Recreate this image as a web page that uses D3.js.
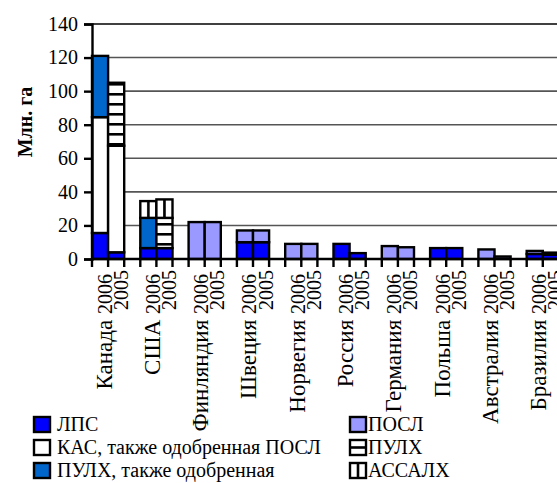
<!DOCTYPE html>
<html><head><meta charset="utf-8">
<script src="https://cdn.jsdelivr.net/npm/d3@7/dist/d3.min.js"></script>
<style>body{margin:0;background:#fff}svg{display:block}
text{font-family:"Liberation Serif","Times New Roman",Times,"DejaVu Serif",serif;}</style></head>
<body><svg id="c" width="557" height="483"></svg>
<script>
// ---------- data ----------
const countries = ["Канада","США","Финляндия","Швеция","Норвегия","Россия","Германия","Польша","Австралия","Бразилия"];
const years = ["2006","2005"];
// values in order: country0-2006, country0-2005, country1-2006, ...
const lps          = [15.5,4,   6.5,6.5, 0,0,   10,10, 0,0, 9,3.5, 0,0,   6.5,6.5, 0,0,     3,2.5];
const kas          = [69,63.5,  0,0,     0,0,   0,0,   0,0, 0,0,   0,0,   0,0,     0,0,     0,0];
const pulhApproved = [36.5,0,   18,0,    0,0,   0,0,   0,0, 0,0,   0,0,   0,0,     0,0,     0,0];
const posl         = [0,0,      0,0,     22,22, 7,7,   9,9, 0,0,   7.7,7, 0,0,     5.7,1.5, 1.8,1.3];
const pulh         = [0,37.5,   0,18,    0,0,   0,0,   0,0, 0,0,   0,0,   0,0,     0,0,     0,0];
const assalh       = [0,0,      10,11,   0,0,   0,0,   0,0, 0,0,   0,0,   0,0,     0,0,     0,0];
const seriesNames = ["ЛПС","КАС, также одобренная ПОСЛ","ПУЛХ, также одобренная","ПОСЛ","ПУЛХ","АССАЛХ"];
const yTicks = [0,20,40,60,80,100,120,140];
const yTitle = "Млн. га";

// ---------- build ----------
const FONT = '"Liberation Serif","Times New Roman",Times,serif';
const seriesKeys = ["lps","kas","pulhA","posl","pulh","assalh"];
const seriesArrays = [lps,kas,pulhApproved,posl,pulh,assalh];
const rows = [];
const slotKeys = [];
countries.forEach((c,ci)=>{
  years.forEach((yr,yi)=>{
    const i = ci*2+yi;
    const r = {key:c+"|"+yr, country:c, year:yr};
    seriesKeys.forEach((k,si)=>r[k]=seriesArrays[si][i]);
    rows.push(r); slotKeys.push(r.key);
  });
  if(ci<countries.length-1) slotKeys.push("gap"+ci);
});

const svg = d3.select("#c");
const W=557, H=483;
const left=92, slotW=16.1;
const x = d3.scaleBand().domain(slotKeys).range([left, left+slotKeys.length*slotW]).padding(0);
const y = d3.scaleLinear().domain([0,140]).range([259,24]);

const fills = {lps:"#0000FF", kas:"#FFFFFF", pulhA:"#0066CC", posl:"#9999FF", pulh:"url(#hstripe)", assalh:"url(#vstripe)"};
const legendFills = {lps:"#0000FF", kas:"#FFFFFF", pulhA:"#0066CC", posl:"#9999FF", pulh:"url(#hstripeL)", assalh:"url(#vstripeL)"};

const defs = svg.append("defs");
const hp = defs.append("pattern").attr("id","hstripe").attr("patternUnits","userSpaceOnUse")
  .attr("width",10).attr("height",10);
hp.append("rect").attr("width",10).attr("height",10).attr("fill","#fff");
hp.append("rect").attr("y",3).attr("width",10).attr("height",2.6).attr("fill","#000");
const vp = defs.append("pattern").attr("id","vstripe").attr("patternUnits","objectBoundingBox")
  .attr("width",1).attr("height",1);
vp.append("rect").attr("width",100).attr("height",1000).attr("fill","#fff");
vp.append("rect").attr("x",x.bandwidth()/2-1.3).attr("width",2.6).attr("height",1000).attr("fill","#000");
const hpl = defs.append("pattern").attr("id","hstripeL").attr("patternUnits","objectBoundingBox")
  .attr("width",1).attr("height",1);
hpl.append("rect").attr("width",100).attr("height",100).attr("fill","#fff");
hpl.append("rect").attr("y",6.2).attr("width",100).attr("height",2.6).attr("fill","#000");
const vpl = defs.append("pattern").attr("id","vstripeL").attr("patternUnits","objectBoundingBox")
  .attr("width",1).attr("height",1);
vpl.append("rect").attr("width",100).attr("height",100).attr("fill","#fff");
vpl.append("rect").attr("x",6.7).attr("width",2.6).attr("height",100).attr("fill","#000");

svg.append("rect").attr("width",W).attr("height",H).attr("fill","#fff");

// gridlines
svg.append("g").selectAll("line").data(yTicks.filter(d=>d>0)).join("line")
  .attr("x1",left).attr("x2",W).attr("y1",d=>y(d)).attr("y2",d=>y(d))
  .attr("stroke",d=>d===140?"#000":"#555").attr("stroke-width",1.6);

// bars
const stack = d3.stack().keys(seriesKeys);
const stacked = stack(rows);
svg.append("g").selectAll("g").data(stacked).join("g")
  .attr("fill",d=>fills[d.key])
  .selectAll("rect").data(d=>d.filter(p=>p[1]-p[0]>0)).join("rect")
  .attr("x",d=>x(d.data.key)).attr("width",x.bandwidth())
  .attr("y",d=>y(d[1])).attr("height",d=>y(d[0])-y(d[1]))
  .attr("stroke","#000").attr("stroke-width",2.4);

// y axis
const ya = svg.append("g").attr("transform",`translate(${left},0)`)
  .call(d3.axisLeft(y).tickValues(yTicks).tickSize(8).tickPadding(6));
ya.attr("font-family",null);
ya.select(".domain").attr("stroke","#000").attr("stroke-width",2.4);
ya.selectAll(".tick line").attr("stroke","#000").attr("stroke-width",2.4);
ya.selectAll("text").attr("font-family",FONT).attr("font-size",20).attr("fill","#000");

// x axis line and boundary ticks
const bounds = slotKeys.map(k=>x(k)).concat([x(slotKeys[slotKeys.length-1])+x.bandwidth()]);
const xa = svg.append("g");
xa.append("line").attr("x1",left).attr("x2",W).attr("y1",y(0)).attr("y2",y(0))
  .attr("stroke","#000").attr("stroke-width",2.4);
xa.selectAll("line.t").data(bounds).join("line").attr("class","t")
  .attr("x1",d=>d).attr("x2",d=>d).attr("y1",y(0)).attr("y2",y(0)+8)
  .attr("stroke","#000").attr("stroke-width",2.4);

// x labels
const xl = xa.selectAll("text").data(rows).join("text")
  .attr("transform",d=>`translate(${x(d.key)+x.bandwidth()/2+11.5},${d.year==="2006"?274:270}) rotate(-90)`)
  .attr("text-anchor","end")
  .attr("font-family",FONT).attr("font-size",20).attr("fill","#000");
xl.filter(d=>d.year==="2006").append("tspan").attr("font-size",23).text(d=>d.country+"  ");
xl.append("tspan").text(d=>d.year);

// y title
svg.append("text").attr("transform","translate(32,122) rotate(-90)")
  .attr("text-anchor","middle").attr("font-family",FONT).attr("font-weight","bold")
  .attr("font-size",20).attr("fill","#000").text(yTitle);

// legend
const legendPos = [
  {k:"lps", x:34, tx:57, row:0},
  {k:"kas", x:34, tx:57, row:1},
  {k:"pulhA", x:34, tx:57, row:2},
  {k:"posl", x:350, tx:368, row:0},
  {k:"pulh", x:350, tx:368, row:1},
  {k:"assalh", x:350, tx:368, row:2}
];
const lg = svg.append("g");
legendPos.forEach(p=>{
  const si = seriesKeys.indexOf(p.k);
  const cy = 424.5 + p.row*23;
  lg.append("rect").attr("x",p.x).attr("y",cy-7.5).attr("width",16).attr("height",15)
    .attr("fill",legendFills[p.k]).attr("stroke","#000").attr("stroke-width",2.4);
  lg.append("text").attr("x",p.tx).attr("y",cy+6.5)
    .attr("font-family",FONT).attr("font-size",20).attr("fill","#000")
    .text(seriesNames[si]);
});
</script></body></html>
